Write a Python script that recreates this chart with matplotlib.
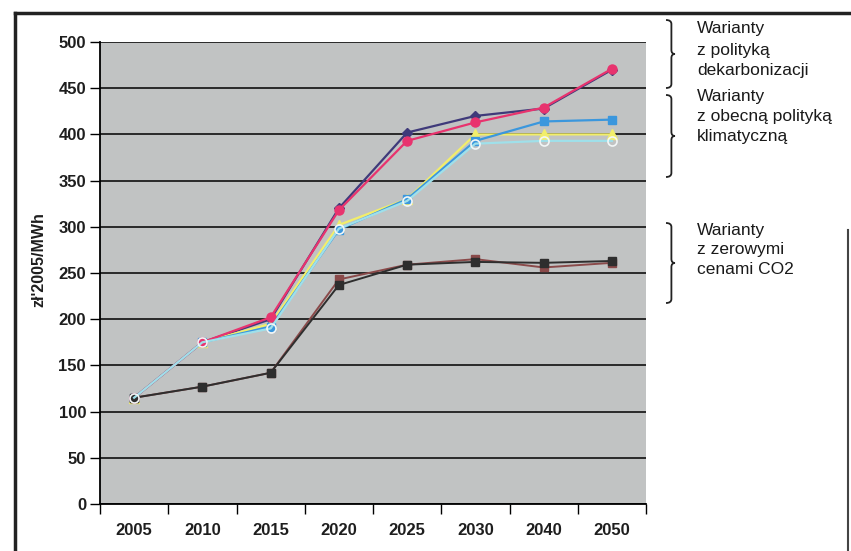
import matplotlib.pyplot as plt
from matplotlib.lines import Line2D
from matplotlib.path import Path
from matplotlib.patches import PathPatch

plt.rcParams['font.family'] = ['Liberation Sans', 'DejaVu Sans']

# data
years = ['2005', '2010', '2015', '2020', '2025', '2030', '2040', '2050']
decarb_a = [115, 175, 200, 320, 402, 420, 428, 470]
decarb_b = [115, 175, 202, 318, 393, 413, 429, 471]
current_yellow = [115, 175, 195, 302, 330, 400, 400, 400]
current_blue = [115, 175, 192, 297, 330, 393, 414, 416]
current_cyan = [115, 175, 190, 298, 328, 390, 393, 393]
zero_black = [115, 127, 142, 237, 259, 262, 261, 263]
zero_red = [115, 127, 142, 243, 259, 265, 256, 261]

W, H = 851, 551
fig = plt.figure(figsize=(W / 100, H / 100), dpi=100)
fig.patch.set_facecolor('white')

ax = fig.add_axes([100 / W, 1 - 504 / H, 546 / W, 462 / H])
ax.set_facecolor('#C1C3C3')

x = list(range(len(years)))

ax.plot(x, decarb_a, color='#3F3A7A', lw=1.6, marker='D', ms=5, zorder=3)
ax.plot(x, decarb_b, color='#E8336E', lw=1.6, marker='o', ms=6.5, zorder=4)
ax.plot(x, current_yellow, color='#F2EE6A', lw=1.6, marker='^', ms=6.5, zorder=3)
ax.plot(x, current_blue, color='#3B97DD', lw=1.6, marker='s', ms=5.5, zorder=3)
ax.plot(x, current_cyan, color='#9FE0EA', lw=1.6, marker='o', ms=6.5,
        mfc='none', mec='#F2F6F6', mew=1.2, zorder=5)
ax.plot(x, zero_red, color='#8A4A4A', lw=1.4, marker='s', ms=5.5, zorder=3)
ax.plot(x, zero_black, color='#2E2E2E', lw=1.4, marker='s', ms=5.5, zorder=4)

ax.set_xlim(-0.5, len(years) - 0.5)
ax.set_ylim(0, 500)
ax.set_yticks(range(0, 501, 50))
ax.yaxis.grid(True, color='black', lw=1.1)
ax.set_axisbelow(True)

ax.set_xticks(x)
ax.set_xticklabels(years)
ax.set_xticks([i - 0.5 for i in range(len(years) + 1)], minor=True)
ax.tick_params(axis='x', which='major', length=0, pad=14, labelsize=12)
ax.tick_params(axis='x', which='minor', length=7, width=1, direction='out')
ax.tick_params(axis='y', length=7, width=1, direction='out', pad=3, labelsize=12)
for lab in ax.get_xticklabels() + ax.get_yticklabels():
    lab.set_fontweight('bold')
    lab.set_color('#1E1E1E')

for side in ['top', 'right']:
    ax.spines[side].set_visible(False)
ax.spines['left'].set_linewidth(1.3)
ax.spines['bottom'].set_linewidth(1.3)

fig.text(39 / W, 1 - 260 / H, "zł'2005/MWh", rotation=90, ha='center',
         va='center', fontsize=11.5, fontweight='bold', color='#1E1E1E')

# outer frame
fig.add_artist(Line2D([15 / W, 15 / W], [0, 1 - 13 / H], color='#222222', lw=2.5))
fig.add_artist(Line2D([15 / W, 849 / W], [1 - 13 / H, 1 - 13 / H], color='#222222', lw=2.5))
fig.add_artist(Line2D([848 / W, 848 / W], [0, 1 - 230 / H], color='#444444', lw=1.5))


def brace(x0, y_top, y_bot, width=9):
    ym = (y_top + y_bot) / 2
    pts = [(x0, y_top), (x0 + width * 0.6, y_top), (x0 + width * 0.6, y_top + 4),
           (x0 + width * 0.6, ym - 4), (x0 + width * 0.6, ym), (x0 + width, ym),
           (x0 + width * 0.6, ym), (x0 + width * 0.6, ym + 4),
           (x0 + width * 0.6, y_bot - 4), (x0 + width * 0.6, y_bot), (x0, y_bot)]
    codes = [Path.MOVETO, Path.CURVE3, Path.CURVE3, Path.LINETO, Path.CURVE3,
             Path.CURVE3, Path.CURVE3, Path.CURVE3, Path.LINETO, Path.CURVE3, Path.CURVE3]
    verts = [(px / W, 1 - py / H) for px, py in pts]
    fig.add_artist(PathPatch(Path(verts, codes), fill=False, lw=1.3,
                             edgecolor='#222222', transform=fig.transFigure))


groups = [
    (20, 88, ['Warianty', 'z polityką', 'dekarbonizacji'], [29, 50, 70]),
    (95, 177, ['Warianty', 'z obecną polityką', 'klimatyczną'], [97, 117, 137]),
    (223, 303, ['Warianty', 'z zerowymi', 'cenami CO2'], [230, 250, 270]),
]
for y_top, y_bot, lines, ys in groups:
    brace(666, y_top, y_bot)
    for txt, yy in zip(lines, ys):
        fig.text(697 / W, 1 - yy / H, txt, ha='left', va='center', fontsize=12.5,
                 color='#1A1A1A')

fig.savefig('out.png', dpi=100)
